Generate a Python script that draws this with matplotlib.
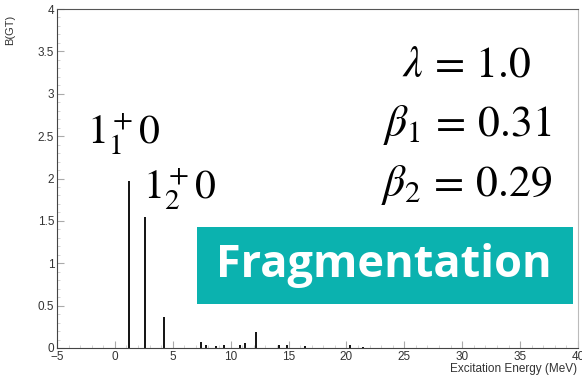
import matplotlib
matplotlib.use("Agg")
import matplotlib.pyplot as plt
from matplotlib.ticker import MultipleLocator, FuncFormatter
from matplotlib.patches import Rectangle

# Gamow-Teller strength distribution
energies = [1.2, 2.6, 4.2, 7.4, 7.85, 8.7, 9.4, 10.8, 11.2, 12.2, 14.2, 14.9, 16.4, 20.3, 21.4]
bgt = [1.97, 1.55, 0.36, 0.07, 0.03, 0.02, 0.03, 0.03, 0.06, 0.19, 0.04, 0.03, 0.02, 0.03, 0.01]

params = [r"$\lambda\,=\,1.0$", r"$\beta_1\,=\,0.31$", r"$\beta_2\,=\,0.29$"]
state_labels = [r"$1^+_1 0$", r"$1^+_2 0$"]

plt.rcParams["mathtext.fontset"] = "stix"
plt.rcParams["font.family"] = ["Liberation Sans", "DejaVu Sans"]

fig = plt.figure(figsize=(5.82, 3.80), dpi=100)
ax = fig.add_axes([57/582, (380-348)/380, (578-57)/582, (348-9)/380])

ax.vlines(energies, 0, bgt, color="black", lw=1.3)

ax.set_xlim(-5, 40)
ax.set_ylim(0, 4)
ax.xaxis.set_major_locator(MultipleLocator(5))
ax.xaxis.set_minor_locator(MultipleLocator(1))
ax.yaxis.set_major_locator(MultipleLocator(0.5))
ax.yaxis.set_minor_locator(MultipleLocator(0.1))
ax.yaxis.set_major_formatter(FuncFormatter(lambda v, p: f"{v:g}"))
ax.tick_params(which="both", direction="in", top=False, right=False, labelsize=8.5, colors="#333333", pad=2)
ax.tick_params(which="major", length=5, color="#aaaaaa")
ax.tick_params(which="minor", length=2.5, color="#cccccc")
for s in ["left", "bottom"]:
    ax.spines[s].set_color("#444444")
ax.spines["top"].set_color("#555555")
ax.spines["right"].set_color("#bbbbbb")

fig.text(10/582, 1 - 30/380, "B(GT)", rotation=90, ha="center", va="center", fontsize=8, color="#333333")
fig.text(577/582, 1 - 369/380, "Excitation Energy (MeV)", ha="right", va="center", fontsize=8.5, color="#333333")

# State labels
fig.text(87/582, 1 - 134/380, state_labels[0], fontsize=30, ha="left", va="center")
fig.text(143/582, 1 - 189/380, state_labels[1], fontsize=30, ha="left", va="center")

# Model parameters
for i, t in enumerate(params):
    fig.text(467/582, 1 - (65 + 60*i)/380, t, fontsize=31.5, ha="center", va="center")

# Banner
fig.patches.append(Rectangle((197/582, 1 - 304/380), (573-197)/582, (304-227)/380,
                             transform=fig.transFigure, facecolor="#0bb2af", edgecolor="none", zorder=5))
fig.text(384/582, 1 - 266/380, "Fragmentation", fontsize=32.5, fontweight="bold", color="white",
         family="Open Sans", ha="center", va="center", zorder=6)

fig.savefig("out.png", dpi=100)
